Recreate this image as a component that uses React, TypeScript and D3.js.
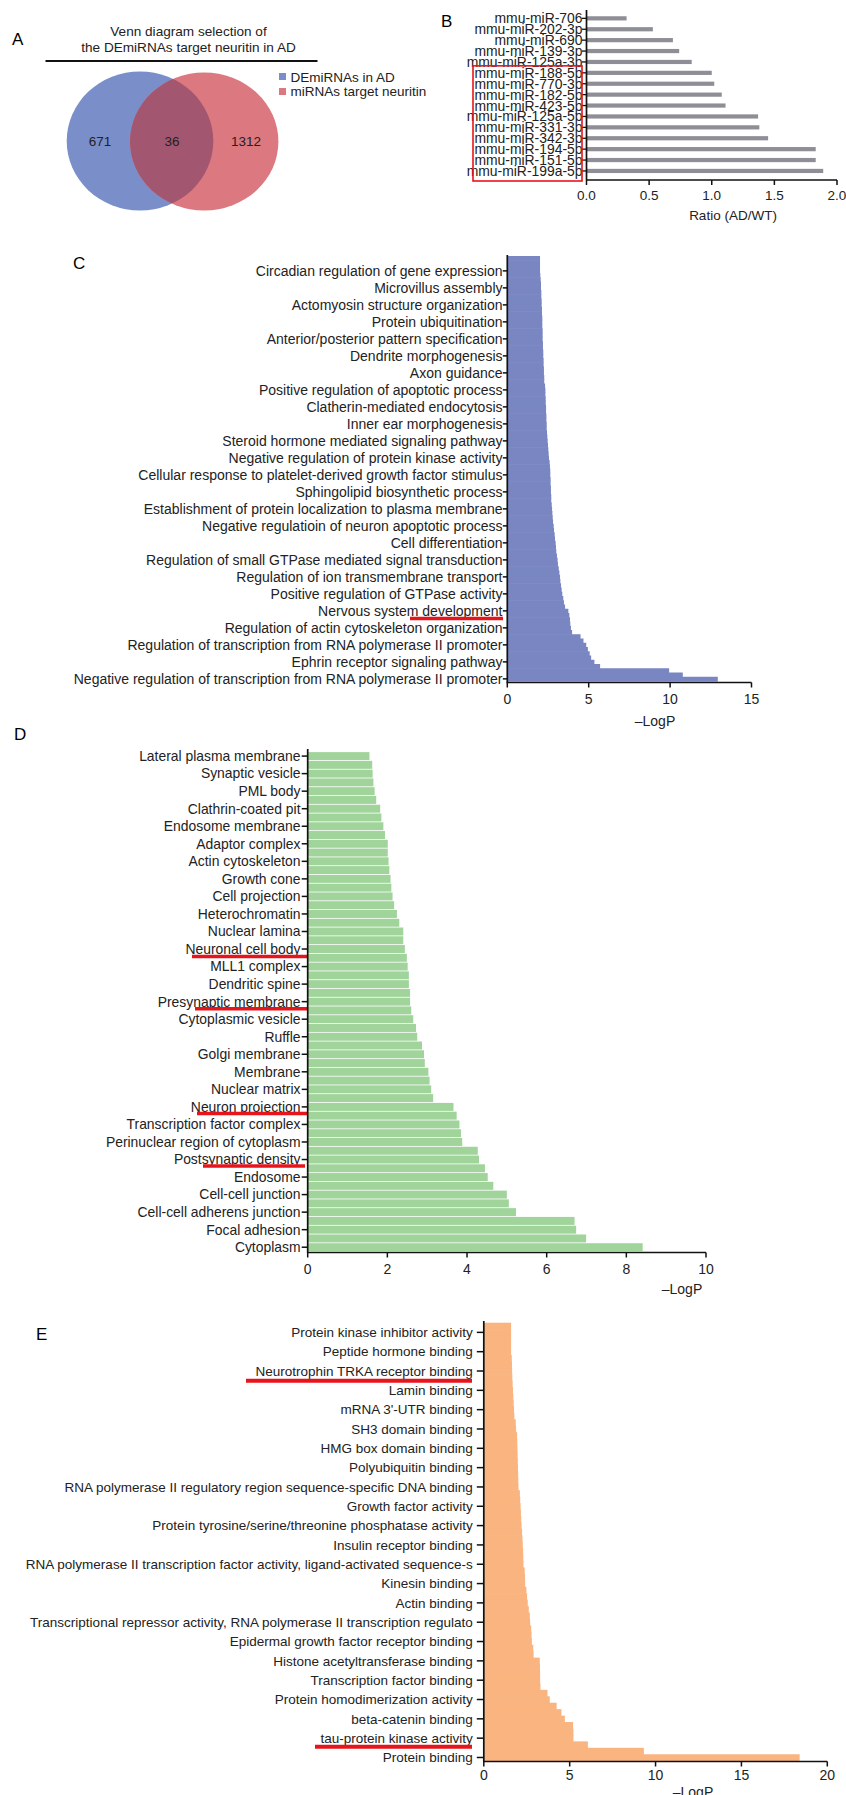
import React from 'react';
import * as d3 from 'd3';

const FONT = "'Liberation Sans', Arial, Helvetica, sans-serif";

// ---- Panel A: Venn ----
const vennCounts = [671, 36, 1312];
const vennLegend = ['DEmiRNAs in AD', 'miRNAs target neuritin'];
const vennTitle = ['Venn diagram selection of', 'the DEmiRNAs target neuritin in AD'];

// ---- Panel B: miRNA ratios ----
const mirNames = [
  'mmu-miR-706', 'mmu-miR-202-3p', 'mmu-miR-690', 'mmu-miR-139-3p', 'mmu-miR-125a-3p',
  'mmu-miR-188-5p', 'mmu-miR-770-3p', 'mmu-miR-182-5p', 'mmu-miR-423-5p', 'mmu-miR-125a-5p',
  'mmu-miR-331-3p', 'mmu-miR-342-3p', 'mmu-miR-194-5p', 'mmu-miR-151-5p', 'mmu-miR-199a-5p',
];
const mirRatio = [0.32, 0.53, 0.69, 0.74, 0.84, 1.0, 1.02, 1.08, 1.11, 1.37, 1.38, 1.45, 1.83, 1.83, 1.89];
const ratioTicks = [0, 0.5, 1, 1.5, 2];

// ---- Panel C: biological process ----
const bpLabels = [
  'Circadian regulation of gene expression', 'Microvillus assembly', 'Actomyosin structure organization',
  'Protein ubiquitination', 'Anterior/posterior pattern specification', 'Dendrite morphogenesis',
  'Axon guidance', 'Positive regulation of apoptotic process', 'Clatherin-mediated endocytosis',
  'Inner ear morphogenesis', 'Steroid hormone mediated signaling pathway',
  'Negative regulation of protein kinase activity', 'Cellular response to platelet-derived growth factor stimulus',
  'Sphingolipid biosynthetic process', 'Establishment of protein localization to plasma membrane',
  'Negative regulatioin of neuron apoptotic process', 'Cell differentiation',
  'Regulation of small GTPase mediated signal transduction', 'Regulation of ion transmembrane transport',
  'Positive regulation of GTPase activity', 'Nervous system development',
  'Regulation of actin cytoskeleton organization', 'Regulation of transcription from RNA polymerase II promoter',
  'Ephrin receptor signaling pathway', 'Negative regulation of transcription from RNA polymerase II promoter',
];
const bpValues = [
  2.01, 2.01, 2.01, 2.01, 2.03, 2.05, 2.07, 2.07, 2.09, 2.09,
  2.11, 2.11, 2.13, 2.13, 2.15, 2.15, 2.15, 2.17, 2.17, 2.17,
  2.19, 2.19, 2.21, 2.21, 2.23, 2.23, 2.25, 2.25, 2.27, 2.27,
  2.32, 2.34, 2.34, 2.36, 2.36, 2.38, 2.38, 2.4, 2.4, 2.42,
  2.42, 2.44, 2.46, 2.48, 2.5, 2.52, 2.54, 2.56, 2.6, 2.62,
  2.64, 2.64, 2.66, 2.66, 2.68, 2.68, 2.7, 2.7, 2.73, 2.75,
  2.77, 2.79, 2.81, 2.85, 2.87, 2.91, 2.93, 2.97, 2.99, 3.01,
  3.05, 3.09, 3.11, 3.16, 3.2, 3.24, 3.26, 3.3, 3.34, 3.38,
  3.44, 3.48, 3.55, 3.75, 3.81, 3.85, 3.87, 3.91, 3.98, 4.5,
  4.68, 4.85, 4.95, 5.06, 5.15, 5.35, 5.7, 9.94, 10.78, 12.93,
];
const bpTicks = [0, 5, 10, 15];

// ---- Panel D: cellular component ----
const ccLabels = [
  'Lateral plasma membrane', 'Synaptic vesicle', 'PML body', 'Clathrin-coated pit', 'Endosome membrane',
  'Adaptor complex', 'Actin cytoskeleton', 'Growth cone', 'Cell projection', 'Heterochromatin',
  'Nuclear lamina', 'Neuronal cell body', 'MLL1 complex', 'Dendritic spine', 'Presynaptic membrane',
  'Cytoplasmic vesicle', 'Ruffle', 'Golgi membrane', 'Membrane', 'Nuclear matrix', 'Neuron projection',
  'Transcription factor complex', 'Perinuclear region of cytoplasm', 'Postsynaptic density', 'Endosome',
  'Cell-cell junction', 'Cell-cell adherens junction', 'Focal adhesion', 'Cytoplasm',
];
const ccValues = [
  1.55, 1.62, 1.63, 1.65, 1.68, 1.72, 1.82, 1.85, 1.9, 1.94,
  2.01, 2.01, 2.03, 2.05, 2.08, 2.1, 2.13, 2.17, 2.24, 2.3,
  2.4, 2.4, 2.44, 2.49, 2.51, 2.54, 2.54, 2.57, 2.57, 2.6,
  2.65, 2.72, 2.75, 2.87, 2.92, 2.94, 3.03, 3.06, 3.1, 3.15,
  3.66, 3.74, 3.81, 3.85, 3.88, 4.27, 4.3, 4.45, 4.52, 4.66,
  5.0, 5.05, 5.23, 6.7, 6.74, 6.99, 8.41,
];
const ccTicks = [0, 2, 4, 6, 8, 10];

// ---- Panel E: molecular function ----
const mfLabels = [
  'Protein kinase inhibitor activity', 'Peptide hormone binding', 'Neurotrophin TRKA receptor binding',
  'Lamin binding', "mRNA 3'-UTR binding", 'SH3 domain binding', 'HMG box domain binding',
  'Polyubiquitin binding', 'RNA polymerase II regulatory region sequence-specific DNA binding',
  'Growth factor activity', 'Protein tyrosine/serine/threonine phosphatase activity',
  'Insulin receptor binding', 'RNA polymerase II transcription factor activity, ligand-activated sequence-s',
  'Kinesin binding', 'Actin binding',
  'Transcriptional repressor activity, RNA polymerase II transcription regulato',
  'Epidermal growth factor receptor binding', 'Histone acetyltransferase binding',
  'Transcription factor binding', 'Protein homodimerization activity', 'beta-catenin binding',
  'tau-protein kinase activity', 'Protein binding',
];
const mfValues = [
  1.59, 1.59, 1.59, 1.59, 1.59, 1.63, 1.64, 1.65, 1.66, 1.68,
  1.7, 1.72, 1.74, 1.76, 1.78, 1.86, 1.88, 1.94, 1.95, 1.96,
  1.97, 1.98, 1.99, 2.0, 2.01, 2.02, 2.1, 2.12, 2.14, 2.16,
  2.18, 2.2, 2.23, 2.25, 2.27, 2.29, 2.3, 2.31, 2.38, 2.4,
  2.41, 2.48, 2.52, 2.56, 2.62, 2.68, 2.7, 2.76, 2.78, 2.8,
  2.88, 2.9, 3.26, 3.27, 3.28, 3.28, 3.3, 3.71, 3.84, 4.24,
  4.52, 4.72, 5.2, 5.22, 5.22, 6.06, 9.32, 18.39,
];
const mfTicks = [0, 5, 10, 15, 20];

type Highlight = { label: string; x1: number; x2: number; dy: number; w: number };

type PanelProps = {
  letter: string;
  letterX: number;
  letterY: number;
  labels: string[];
  values: number[];
  every: number;
  offset: number;
  xRange: [number, number];
  xMax: number;
  ticks: number[];
  yRange: [number, number];
  axisTop: number;
  axisY: number;
  fill: string;
  gap: number;
  tickLen: number;
  labelEnd: number;
  fontSize: number;
  tickLabelY: number;
  titleX: number;
  titleY: number;
  highlights: Highlight[];
};

function GoPanel(p: PanelProps) {
  const x = d3.scaleLinear().domain([0, p.xMax]).range(p.xRange);
  const y = d3.scaleBand<number>().domain(d3.range(p.values.length)).range(p.yRange);
  const bw = y.bandwidth();
  const x0 = x(0);
  const labelY = (li: number) => (y(p.offset + li * p.every) as number) + bw / 2;
  return (
    <g>
      <text x={p.letterX} y={p.letterY} fontSize={17} fontFamily={FONT}>{p.letter}</text>
      {p.values.map((v, i) => (
        <rect
          key={i}
          x={x0}
          y={(y(i) as number) + p.gap / 2}
          width={x(v) - x0}
          height={bw - p.gap + (p.gap === 0 ? 0.6 : 0)}
          fill={p.fill}
        />
      ))}
      {p.labels.map((l, li) => (
        <g key={l}>
          <line x1={x0 - p.tickLen} x2={x0} y1={labelY(li)} y2={labelY(li)} stroke="#111" strokeWidth={1.5} />
          <text x={p.labelEnd} y={labelY(li)} dy="0.35em" textAnchor="end" fontSize={p.fontSize} fontFamily={FONT} fill="#222">
            {l}
          </text>
        </g>
      ))}
      {p.highlights.map((h) => {
        const li = p.labels.indexOf(h.label);
        const yy = labelY(li) + h.dy;
        return <line key={h.label} x1={h.x1} x2={h.x2} y1={yy} y2={yy} stroke="#e8141c" strokeWidth={h.w} />;
      })}
      <line x1={x0} x2={x0} y1={p.axisTop} y2={p.axisY} stroke="#111" strokeWidth={1.7} />
      <line x1={x0 - 0.8} x2={x(p.xMax)} y1={p.axisY} y2={p.axisY} stroke="#111" strokeWidth={1.7} />
      {p.ticks.map((t) => (
        <g key={t}>
          <line x1={x(t)} x2={x(t)} y1={p.axisY} y2={p.axisY + 5} stroke="#111" strokeWidth={1.5} />
          <text x={x(t)} y={p.tickLabelY} dy="0.35em" textAnchor="middle" fontSize={14} fontFamily={FONT} fill="#222">
            {t}
          </text>
        </g>
      ))}
      <text x={p.titleX} y={p.titleY} textAnchor="middle" fontSize={14} fontFamily={FONT} fill="#222">–LogP</text>
    </g>
  );
}

function Venn() {
  const blue = '#7a8fca';
  const red = '#dc7880';
  const mid = '#a3566f';
  return (
    <g fontFamily={FONT}>
      <text x={12} y={45} fontSize={17}>A</text>
      {vennTitle.map((t, i) => (
        <text key={t} x={188.5} y={35.5 + i * 16} textAnchor="middle" fontSize={13.6} fill="#222">{t}</text>
      ))}
      <line x1={45.5} x2={317.5} y1={61} y2={61} stroke="#111" strokeWidth={2} />
      <defs>
        <clipPath id="blueClip">
          <ellipse cx={140} cy={141} rx={73.3} ry={69.5} />
        </clipPath>
      </defs>
      <ellipse cx={140} cy={141} rx={73.3} ry={69.5} fill={blue} />
      <ellipse cx={204.2} cy={141.5} rx={74.2} ry={69} fill={red} />
      <ellipse cx={204.2} cy={141.5} rx={74.2} ry={69} fill={mid} clipPath="url(#blueClip)" />
      {[100, 172, 246].map((cx, i) => (
        <text key={i} x={cx} y={141} dy="0.36em" textAnchor="middle" fontSize={13.5} fill="#222">
          {vennCounts[i]}
        </text>
      ))}
      {vennLegend.map((t, i) => (
        <g key={t}>
          <rect x={279} y={73 + i * 15} width={7} height={7} fill={i === 0 ? blue : red} />
          <text x={290.5} y={81.5 + i * 14.5} fontSize={13.5} fill="#222">{t}</text>
        </g>
      ))}
    </g>
  );
}

function RatioPanel() {
  const x = d3.scaleLinear().domain([0, 2]).range([586.5, 837]);
  const y = d3.scaleBand<number>().domain(d3.range(mirNames.length)).range([12.9, 176.4]);
  const bw = y.bandwidth();
  const cy = (i: number) => (y(i) as number) + bw / 2;
  const boxTop = cy(5) - 7;
  return (
    <g fontFamily={FONT}>
      <text x={441} y={27} fontSize={17}>B</text>
      {mirRatio.map((v, i) => (
        <rect key={i} x={x(0)} y={cy(i) - 2.1} width={x(v) - x(0)} height={4.2} fill="#8e8e97" />
      ))}
      {mirNames.map((n, i) => (
        <g key={n}>
          <line x1={582} x2={x(0)} y1={cy(i)} y2={cy(i)} stroke="#111" strokeWidth={1.3} />
          <text x={582.5} y={cy(i)} dy="0.36em" textAnchor="end" fontSize={13.9} fill="#222">{n}</text>
        </g>
      ))}
      <rect x={473} y={boxTop} width={109} height={181 - boxTop} fill="none" stroke="#e8141c" strokeWidth={1.6} />
      <line x1={x(0)} x2={x(0)} y1={10} y2={180} stroke="#111" strokeWidth={1.7} />
      <line x1={x(0)} x2={x(2)} y1={180} y2={180} stroke="#111" strokeWidth={1.7} />
      {ratioTicks.map((t) => (
        <g key={t}>
          <line x1={x(t)} x2={x(t)} y1={180} y2={185} stroke="#111" strokeWidth={1.5} />
          <text x={x(t)} y={195} dy="0.35em" textAnchor="middle" fontSize={13.5} fill="#222">{t.toFixed(1)}</text>
        </g>
      ))}
      <text x={733} y={220} textAnchor="middle" fontSize={13.5} fill="#222">Ratio (AD/WT)</text>
    </g>
  );
}

export default function App() {
  return (
    <svg
      width={846}
      height={1795}
      style={{ position: 'absolute', left: 0, top: 0, display: 'block', background: '#fff' }}
    >
      <rect width={846} height={1795} fill="#fff" />
      <Venn />
      <RatioPanel />
      <GoPanel
        letter="C" letterX={73} letterY={269}
        labels={bpLabels} values={bpValues} every={4} offset={3}
        xRange={[507.3, 751.5]} xMax={15} ticks={bpTicks}
        yRange={[256, 681]} axisTop={255} axisY={682.5}
        fill="#7986c2" gap={0} tickLen={4.5} labelEnd={502.5} fontSize={14}
        tickLabelY={699} titleX={655} titleY={726}
        highlights={[{ label: 'Nervous system development', x1: 410, x2: 503, dy: 7.5, w: 3.5 }]}
      />
      <GoPanel
        letter="D" letterX={14} letterY={740}
        labels={ccLabels} values={ccValues} every={2} offset={0}
        xRange={[307.7, 706]} xMax={10} ticks={ccTicks}
        yRange={[751.7, 1251.6]} axisTop={749} axisY={1252.5}
        fill="#a0d49b" gap={0.8} tickLen={6} labelEnd={300.5} fontSize={13.9}
        tickLabelY={1269} titleX={682} titleY={1294}
        highlights={[
          { label: 'Neuronal cell body', x1: 192, x2: 307, dy: 7.5, w: 3.5 },
          { label: 'Presynaptic membrane', x1: 195, x2: 307, dy: 7, w: 3.5 },
          { label: 'Neuron projection', x1: 197, x2: 307, dy: 6.5, w: 3.5 },
          { label: 'Postsynaptic density', x1: 203, x2: 305, dy: 6.5, w: 3.5 },
        ]}
      />
      <GoPanel
        letter="E" letterX={36} letterY={1340}
        labels={mfLabels} values={mfValues} every={3} offset={1}
        xRange={[483.8, 827.3]} xMax={20} ticks={mfTicks}
        yRange={[1322.7, 1760.7]} axisTop={1321} axisY={1761.5}
        fill="#f9b480" gap={0} tickLen={7} labelEnd={472.8} fontSize={13.5}
        tickLabelY={1775} titleX={693} titleY={1797}
        highlights={[
          { label: 'Neurotrophin TRKA receptor binding', x1: 246, x2: 472, dy: 9.7, w: 4 },
          { label: 'tau-protein kinase activity', x1: 315, x2: 472, dy: 8.6, w: 4 },
        ]}
      />
    </svg>
  );
}
